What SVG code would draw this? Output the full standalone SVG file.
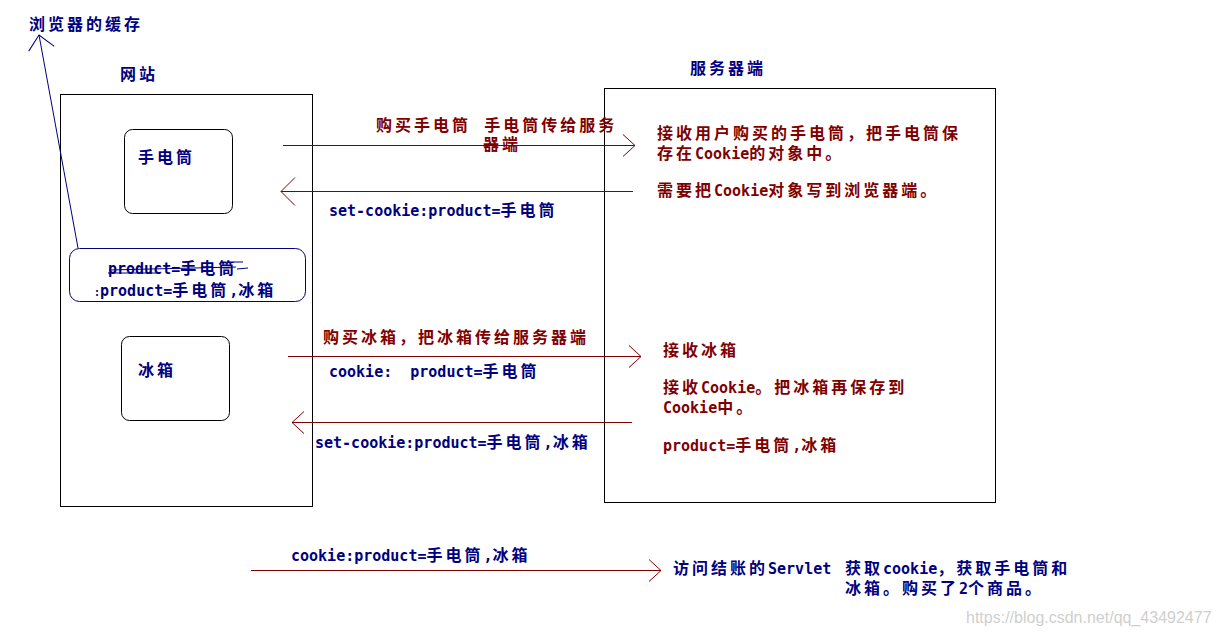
<svg xmlns="http://www.w3.org/2000/svg" width="1218" height="636" viewBox="0 0 1218 636">
<style>
.t{font-family:"DejaVu Sans Mono","Liberation Mono","Noto Sans CJK SC",monospace;font-weight:bold;font-size:15px}
.k{font-family:"Noto Sans CJK SC","Noto Sans CJK JP",sans-serif;font-weight:bold;font-size:16px;letter-spacing:3px}
.r{fill:#800000}
.b{fill:#000080}
.box{fill:none;stroke:#000;stroke-width:1}
.rbox{fill:#fff;stroke:#000;stroke-width:1}
.ln{stroke:#800000;stroke-width:1;fill:none}
.nv{stroke:#000080;stroke-width:1;fill:none}
.wm{font-family:"Liberation Sans",Arial,sans-serif;font-size:16px;fill:#cfcfcf}
</style>
<defs>
<marker id="ah" viewBox="0 0 14 24" refX="13" refY="12" markerWidth="14" markerHeight="24" markerUnits="userSpaceOnUse" orient="auto">
<path d="M1,1 L13,12 L1,23" fill="none" stroke="#800000" stroke-width="1"/>
</marker>
<marker id="ahl" viewBox="0 0 16 30" refX="15" refY="15" markerWidth="16" markerHeight="30" markerUnits="userSpaceOnUse" orient="auto">
<path d="M1,1 L15,15 L1,29" fill="none" stroke="#800000" stroke-width="1"/>
</marker>
<marker id="ahb" viewBox="0 0 16 28" refX="15" refY="14" markerWidth="16" markerHeight="28" markerUnits="userSpaceOnUse" orient="auto">
<path d="M1,1 L15,14 L1,27" fill="none" stroke="#000080" stroke-width="1"/>
</marker>
</defs>
<rect width="1218" height="636" fill="#fff"/>

<g id="browser-cache-label">
<text class="t k b" x="29" y="30">浏览器的缓存</text>
</g>

<g id="website">
<text class="t k b" x="120" y="80">网站</text>
<rect class="box" x="60.5" y="94.5" width="252" height="412"/>
</g>

<g id="server">
<text class="t k b" x="690" y="74">服务器端</text>
<rect class="box" x="604.5" y="88.5" width="391" height="414"/>
<text class="t r" x="657" y="139"><tspan class="k">接收用户购买的手电筒，把手电筒保</tspan></text>
<text class="t r" x="657" y="159"><tspan class="k">存在</tspan>Cookie<tspan class="k">的对象中。</tspan></text>
<text class="t r" x="657" y="196"><tspan class="k">需要把</tspan>Cookie<tspan class="k">对象写到浏览器端。</tspan></text>
<text class="t r" x="663" y="356"><tspan class="k">接收冰箱</tspan></text>
<text class="t r" x="663" y="393"><tspan class="k">接收</tspan>Cookie<tspan class="k">。把冰箱再保存到</tspan></text>
<text class="t r" x="663" y="413">Cookie<tspan class="k">中。</tspan></text>
<text class="t r" x="663" y="451">product=<tspan class="k">手电筒</tspan>,<tspan class="k">冰箱</tspan></text>
</g>

<g id="flashlight">
<rect class="rbox" x="124.5" y="129.5" width="108" height="84" rx="8"/>
<text class="t k b" x="138" y="163">手电筒</text>
</g>

<g id="fridge">
<rect class="rbox" x="121.5" y="336.5" width="108" height="84" rx="8"/>
<text class="t k b" x="138" y="376">冰箱</text>
</g>

<g id="cookie-store">
<rect x="69.5" y="248.5" width="236" height="53" rx="10" fill="#fff" stroke="#000080" stroke-width="1"/>
<text class="t b" x="108" y="274">product=<tspan class="k">手电筒</tspan></text>
<path class="nv" d="M109,270 L236,267 M108,273 L160,273 M233,262 L243,262 M237,269 L248,268"/>
<text class="t b" x="94" y="296"><tspan font-size="10">:</tspan>product=<tspan class="k">手电筒</tspan>,<tspan class="k">冰箱</tspan></text>
</g>

<g id="checkout">
<text class="t b" x="673" y="574"><tspan class="k">访问结账的</tspan>Servlet</text>
<text class="t b" x="845" y="574"><tspan class="k">获取</tspan>cookie<tspan class="k">，获取手电筒和</tspan></text>
<text class="t b" x="845" y="594"><tspan class="k">冰箱。购买了</tspan>2<tspan class="k">个商品。</tspan></text>
</g>

<g id="connectors">
<line class="nv" x1="78" y1="248" x2="39" y2="35" marker-end="url(#ahb)"/>
<line class="ln" x1="283" y1="145.5" x2="635" y2="145.5" marker-end="url(#ah)"/>
<line class="ln" x1="633" y1="191.5" x2="281" y2="191.5" marker-end="url(#ahl)"/>
<line class="ln" x1="288" y1="356.5" x2="641" y2="356.5" marker-end="url(#ah)"/>
<line class="ln" x1="632" y1="422.5" x2="292" y2="422.5" marker-end="url(#ah)"/>
<line class="ln" x1="251" y1="570.5" x2="661" y2="570.5" marker-end="url(#ah)"/>
</g>

<g id="connector-labels">
<text class="t r" x="376" y="131" xml:space="preserve"><tspan class="k">购买手电筒  手电筒传给服务</tspan></text>
<text class="t r" x="483" y="150"><tspan class="k">器端</tspan></text>
<text class="t b" x="329" y="216">set-cookie:product=<tspan class="k">手电筒</tspan></text>
<text class="t r" x="323" y="343"><tspan class="k">购买冰箱，把冰箱传给服务器端</tspan></text>
<text class="t b" x="329" y="377" xml:space="preserve">cookie:  product=<tspan class="k">手电筒</tspan></text>
<text class="t b" x="315" y="448">set-cookie:product=<tspan class="k">手电筒</tspan>,<tspan class="k">冰箱</tspan></text>
<text class="t b" x="291" y="561">cookie:product=<tspan class="k">手电筒</tspan>,<tspan class="k">冰箱</tspan></text>
</g>

<text class="wm" x="966" y="623">https://blog.csdn.net/qq_43492477</text>
</svg>
